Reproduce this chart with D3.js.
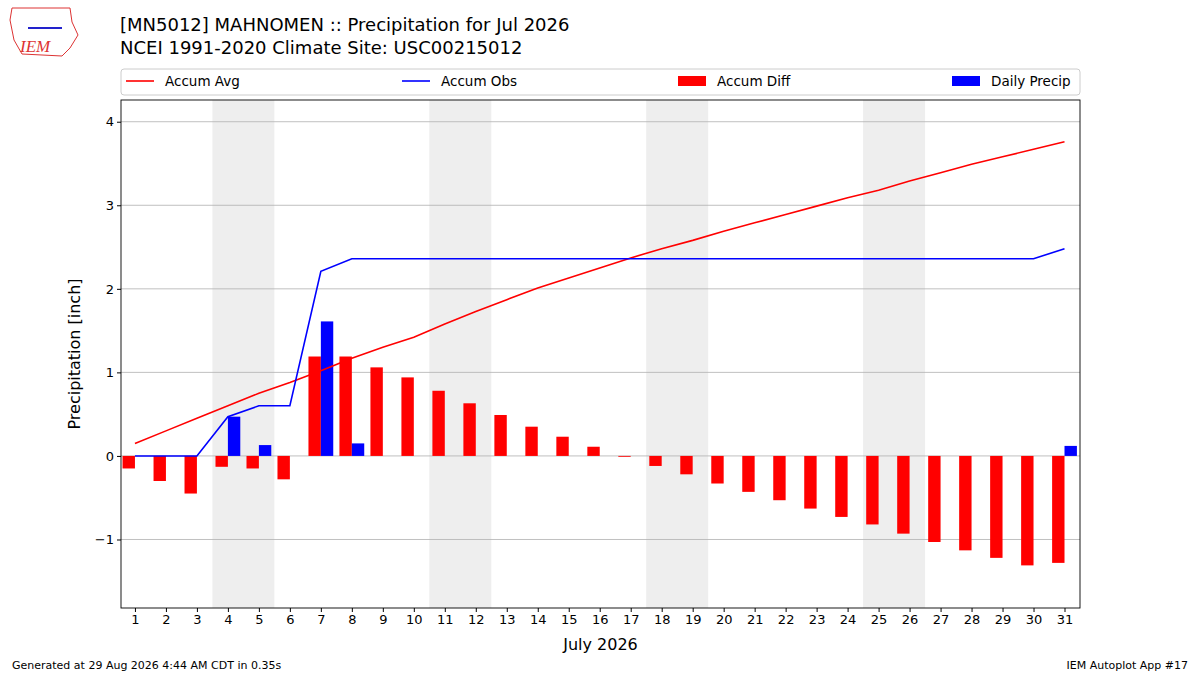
<!DOCTYPE html>
<html><head><meta charset="utf-8">
<script src="https://cdn.jsdelivr.net/npm/d3@7/dist/d3.min.js"></script>
<style>body{margin:0;background:#fff;font-family:"DejaVu Sans",sans-serif}</style>
</head><body><svg id="c" width="1200" height="675"></svg>
<script>
// values
const days = d3.range(1, 32);
const accumAvg = [0.15,0.30,0.45,0.60,0.75,0.88,1.02,1.17,1.30,1.42,1.58,1.73,1.87,2.01,2.13,2.25,2.37,2.48,2.58,2.69,2.79,2.89,2.99,3.09,3.18,3.29,3.39,3.49,3.58,3.67,3.76];
const accumObs = [0,0,0,0.47,0.60,0.60,2.21,2.36,2.36,2.36,2.36,2.36,2.36,2.36,2.36,2.36,2.36,2.36,2.36,2.36,2.36,2.36,2.36,2.36,2.36,2.36,2.36,2.36,2.36,2.36,2.48];
const accumDiff = [-0.15,-0.30,-0.45,-0.13,-0.15,-0.28,1.19,1.19,1.06,0.94,0.78,0.63,0.49,0.35,0.23,0.11,-0.01,-0.12,-0.22,-0.33,-0.43,-0.53,-0.63,-0.73,-0.82,-0.93,-1.03,-1.13,-1.22,-1.31,-1.28];
const dailyPrecip = [0,0,0,0.47,0.13,0,1.61,0.15,0,0,0,0,0,0,0,0,0,0,0,0,0,0,0,0,0,0,0,0,0,0,0.12];
const weekends = [[4,5],[11,12],[18,19],[25,26]];
const yTicks = [-1,0,1,2,3,4];

const svg = d3.select("#c");
const L = 121, R = 1080, T = 100, B = 608;
const x = d3.scaleLinear().domain([0.55, 31.5]).range([L, R]);
const y = d3.scaleLinear().domain([-1.82, 4.26]).range([B, T]);
const bw = x(0.4) - x(0);

// weekend shading
svg.selectAll(".wk").data(weekends).enter().append("rect")
  .attr("x", d => x(d[0]-0.5)).attr("width", d => x(d[1]+0.5)-x(d[0]-0.5))
  .attr("y", T).attr("height", B-T).attr("fill", "#eeeeee");

// gridlines
svg.selectAll(".g").data(yTicks).enter().append("line")
  .attr("x1", L).attr("x2", R).attr("y1", d => y(d)).attr("y2", d => y(d))
  .attr("stroke", "#b0b0b0").attr("stroke-width", 0.8);

svg.selectAll(".bd").data(days).enter().append("rect")
  .attr("x", d => x(d) - bw).attr("width", bw)
  .attr("y", (d,i) => y(Math.max(0, accumDiff[i])))
  .attr("height", (d,i) => Math.abs(y(accumDiff[i]) - y(0)))
  .attr("fill", "red");
svg.selectAll(".bp").data(days).enter().append("rect")
  .attr("x", d => x(d)).attr("width", bw)
  .attr("y", (d,i) => y(dailyPrecip[i]))
  .attr("height", (d,i) => y(0) - y(dailyPrecip[i]))
  .attr("fill", "blue");

const line = arr => d3.line().x((d,i) => x(days[i])).y(d => y(d))(arr);
svg.append("path").attr("d", line(accumAvg)).attr("fill","none").attr("stroke","red").attr("stroke-width",1.6);
svg.append("path").attr("d", line(accumObs)).attr("fill","none").attr("stroke","blue").attr("stroke-width",1.6);

svg.append("rect").attr("x", L).attr("y", T).attr("width", R-L).attr("height", B-T)
  .attr("fill","none").attr("stroke","#000").attr("stroke-width",0.9);

const xa = svg.append("g").attr("transform", `translate(0,${B})`)
  .call(d3.axisBottom(x).tickValues(days).tickFormat(d3.format("d")).tickSize(4).tickSizeOuter(0));
const ya = svg.append("g").attr("transform", `translate(${L},0)`)
  .call(d3.axisLeft(y).tickValues(yTicks).tickFormat(d => d < 0 ? "\u2212" + (-d) : d).tickSize(4).tickSizeOuter(0));
[xa, ya].forEach(a => { a.select(".domain").remove(); a.selectAll("text").attr("font-size", 13).attr("font-family","DejaVu Sans").attr("fill","#000"); });

svg.append("text").attr("x", (L+R)/2).attr("y", 650).attr("text-anchor","middle").attr("font-size",16).text("July 2026");
svg.append("text").attr("transform", `translate(80,${(T+B)/2}) rotate(-90)`).attr("text-anchor","middle").attr("font-size",16).text("Precipitation [inch]");

svg.append("text").attr("x",120).attr("y",31).attr("font-size",18).text("[MN5012] MAHNOMEN :: Precipitation for Jul 2026");
svg.append("text").attr("x",120).attr("y",54).attr("font-size",18).text("NCEI 1991-2020 Climate Site: USC00215012");

// legend
svg.append("rect").attr("x",L).attr("y",69).attr("width",R-L).attr("height",26).attr("rx",3)
  .attr("fill","#fff").attr("stroke","#ccc");
const leg = [
  {t:"Accum Avg", c:"red", k:"line", x:126},
  {t:"Accum Obs", c:"blue", k:"line", x:402},
  {t:"Accum Diff", c:"red", k:"bar", x:678},
  {t:"Daily Precip", c:"blue", k:"bar", x:952}
];
leg.forEach(l => {
  if (l.k === "line") svg.append("line").attr("x1",l.x).attr("x2",l.x+28).attr("y1",81).attr("y2",81).attr("stroke",l.c).attr("stroke-width",1.6);
  else svg.append("rect").attr("x",l.x).attr("y",76).attr("width",28).attr("height",10).attr("fill",l.c);
  svg.append("text").attr("x",l.x+39).attr("y",86).attr("font-size",13.5).text(l.t);
});

// logo
svg.append("path").attr("d","M12,8 L70,8 L72,22 L78,35 L70,48 L62,56 L22,54 L14,40 L10,20 Z")
  .attr("fill","none").attr("stroke","#d33").attr("stroke-width",1);
svg.append("text").attr("x",20).attr("y",52).attr("font-size",17).attr("font-style","italic")
  .attr("font-family","Liberation Serif").attr("fill","#d33").text("IEM");
svg.append("line").attr("x1",28).attr("x2",62).attr("y1",28).attr("y2",28).attr("stroke","#22c").attr("stroke-width",2);

svg.append("text").attr("x",12).attr("y",669).attr("font-size",11).text("Generated at 29 Aug 2026 4:44 AM CDT in 0.35s");
svg.append("text").attr("x",1188).attr("y",669).attr("font-size",11).attr("text-anchor","end").text("IEM Autoplot App #17");
</script></body></html>
